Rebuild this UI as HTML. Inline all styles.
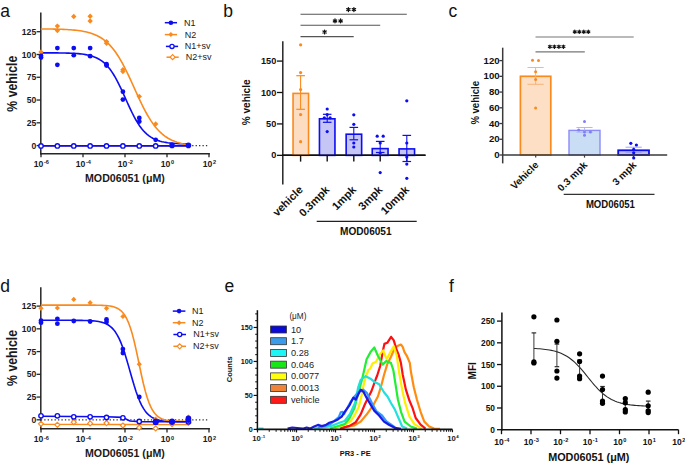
<!DOCTYPE html>
<html><head><meta charset="utf-8"><style>
html,body{margin:0;padding:0;background:#fff;width:685px;height:465px;overflow:hidden}
svg{display:block}
text{font-family:"Liberation Sans", sans-serif}
</style></head><body>
<svg width="685" height="465" viewBox="0 0 685 465">
<rect width="685" height="465" fill="#fff"/>
<text x="0.30" y="16.50" font-size="17.5" font-weight="normal" text-anchor="start" fill="#111" >a</text>
<text x="223.30" y="16.80" font-size="17.5" font-weight="normal" text-anchor="start" fill="#111" >b</text>
<text x="448.60" y="16.80" font-size="17.5" font-weight="normal" text-anchor="start" fill="#111" >c</text>
<text x="0.30" y="291.60" font-size="17.5" font-weight="normal" text-anchor="start" fill="#111" >d</text>
<text x="224.60" y="291.50" font-size="17.5" font-weight="normal" text-anchor="start" fill="#111" >e</text>
<text x="449.00" y="291.60" font-size="17.5" font-weight="normal" text-anchor="start" fill="#111" >f</text>
<line x1="40.80" y1="12.50" x2="40.80" y2="154.45" stroke="#262626" stroke-width="1.5" />
<line x1="40.05" y1="153.70" x2="209.90" y2="153.70" stroke="#262626" stroke-width="1.5" />
<line x1="36.60" y1="145.60" x2="40.80" y2="145.60" stroke="#262626" stroke-width="1.3" />
<text x="36.20" y="148.70" font-size="8.6" font-weight="bold" text-anchor="end" fill="#1a1a1a" >0</text>
<line x1="36.60" y1="122.82" x2="40.80" y2="122.82" stroke="#262626" stroke-width="1.3" />
<text x="36.20" y="125.92" font-size="8.6" font-weight="bold" text-anchor="end" fill="#1a1a1a" >25</text>
<line x1="36.60" y1="100.04" x2="40.80" y2="100.04" stroke="#262626" stroke-width="1.3" />
<text x="36.20" y="103.14" font-size="8.6" font-weight="bold" text-anchor="end" fill="#1a1a1a" >50</text>
<line x1="36.60" y1="77.26" x2="40.80" y2="77.26" stroke="#262626" stroke-width="1.3" />
<text x="36.20" y="80.36" font-size="8.6" font-weight="bold" text-anchor="end" fill="#1a1a1a" >75</text>
<line x1="36.60" y1="54.48" x2="40.80" y2="54.48" stroke="#262626" stroke-width="1.3" />
<text x="36.20" y="57.58" font-size="8.6" font-weight="bold" text-anchor="end" fill="#1a1a1a" >100</text>
<line x1="36.60" y1="31.70" x2="40.80" y2="31.70" stroke="#262626" stroke-width="1.3" />
<text x="36.20" y="34.80" font-size="8.6" font-weight="bold" text-anchor="end" fill="#1a1a1a" >125</text>
<line x1="41.00" y1="153.70" x2="41.00" y2="157.30" stroke="#262626" stroke-width="1.3" />
<text x="41.40" y="166.80" font-size="8.6" font-weight="bold" text-anchor="middle" fill="#1a1a1a"><tspan>10</tspan><tspan dx="0.6" dy="-2.4" font-size="5.6">-6</tspan></text>
<line x1="83.00" y1="153.70" x2="83.00" y2="157.30" stroke="#262626" stroke-width="1.3" />
<text x="83.40" y="166.80" font-size="8.6" font-weight="bold" text-anchor="middle" fill="#1a1a1a"><tspan>10</tspan><tspan dx="0.6" dy="-2.4" font-size="5.6">-4</tspan></text>
<line x1="125.00" y1="153.70" x2="125.00" y2="157.30" stroke="#262626" stroke-width="1.3" />
<text x="125.40" y="166.80" font-size="8.6" font-weight="bold" text-anchor="middle" fill="#1a1a1a"><tspan>10</tspan><tspan dx="0.6" dy="-2.4" font-size="5.6">-2</tspan></text>
<line x1="167.00" y1="153.70" x2="167.00" y2="157.30" stroke="#262626" stroke-width="1.3" />
<text x="167.40" y="166.80" font-size="8.6" font-weight="bold" text-anchor="middle" fill="#1a1a1a"><tspan>10</tspan><tspan dx="0.6" dy="-2.4" font-size="5.6">0</tspan></text>
<line x1="209.00" y1="153.70" x2="209.00" y2="157.30" stroke="#262626" stroke-width="1.3" />
<text x="209.40" y="166.80" font-size="8.6" font-weight="bold" text-anchor="middle" fill="#1a1a1a"><tspan>10</tspan><tspan dx="0.6" dy="-2.4" font-size="5.6">2</tspan></text>
<text x="85.00" y="182.20" font-size="10" font-weight="bold" text-anchor="start" fill="#1a1a1a" textLength="79.80" lengthAdjust="spacingAndGlyphs" >MOD06051 (μM)</text>
<text x="16.90" y="83.65" font-size="14.4" font-weight="bold" text-anchor="middle" fill="#1a1a1a" textLength="56.00" lengthAdjust="spacingAndGlyphs" transform="rotate(-90 16.90 83.65)" >% vehicle</text>
<line x1="40.80" y1="145.60" x2="207.5" y2="145.60" stroke="#333" stroke-width="1.2" stroke-dasharray="1.3 2.14"/>
<path d="M40.80 52.82 L42.67 52.83 L44.53 52.83 L46.40 52.84 L48.26 52.85 L50.13 52.86 L51.99 52.87 L53.86 52.88 L55.73 52.90 L57.59 52.92 L59.46 52.94 L61.32 52.97 L63.19 53.00 L65.06 53.05 L66.92 53.09 L68.79 53.15 L70.65 53.22 L72.52 53.31 L74.38 53.41 L76.25 53.53 L78.12 53.67 L79.98 53.85 L81.85 54.06 L83.71 54.30 L85.58 54.60 L87.45 54.95 L89.31 55.37 L91.18 55.87 L93.04 56.46 L94.91 57.16 L96.77 57.98 L98.64 58.95 L100.51 60.08 L102.37 61.40 L104.24 62.94 L106.10 64.71 L107.97 66.73 L109.84 69.03 L111.70 71.61 L113.57 74.49 L115.43 77.65 L117.30 81.09 L119.16 84.78 L121.03 88.67 L122.90 92.72 L124.76 96.86 L126.63 101.03 L128.49 105.16 L130.36 109.17 L132.23 113.02 L134.09 116.66 L135.96 120.03 L137.82 123.13 L139.69 125.94 L141.55 128.46 L143.42 130.69 L145.29 132.65 L147.15 134.37 L149.02 135.85 L150.88 137.13 L152.75 138.22 L154.62 139.15 L156.48 139.95 L158.35 140.62 L160.21 141.19 L162.08 141.66 L163.94 142.07 L165.81 142.40 L167.68 142.69 L169.54 142.93 L171.41 143.12 L173.27 143.29 L175.14 143.43 L177.01 143.55 L178.87 143.64 L180.74 143.72 L182.60 143.79 L184.47 143.85 L186.33 143.90 L188.20 143.93" fill="none" stroke="#0D0DF2" stroke-width="1.6" stroke-linejoin="round" />
<path d="M40.80 28.93 L42.67 28.94 L44.53 28.96 L46.40 28.98 L48.26 29.00 L50.13 29.03 L51.99 29.06 L53.86 29.10 L55.73 29.14 L57.59 29.19 L59.46 29.25 L61.32 29.31 L63.19 29.38 L65.06 29.47 L66.92 29.57 L68.79 29.68 L70.65 29.81 L72.52 29.95 L74.38 30.12 L76.25 30.32 L78.12 30.54 L79.98 30.79 L81.85 31.08 L83.71 31.42 L85.58 31.80 L87.45 32.23 L89.31 32.73 L91.18 33.30 L93.04 33.94 L94.91 34.68 L96.77 35.51 L98.64 36.45 L100.51 37.51 L102.37 38.71 L104.24 40.06 L106.10 41.57 L107.97 43.26 L109.84 45.13 L111.70 47.20 L113.57 49.49 L115.43 51.99 L117.30 54.71 L119.16 57.66 L121.03 60.82 L122.90 64.20 L124.76 67.77 L126.63 71.51 L128.49 75.40 L130.36 79.41 L132.23 83.50 L134.09 87.63 L135.96 91.76 L137.82 95.85 L139.69 99.86 L141.55 103.77 L143.42 107.52 L145.29 111.11 L147.15 114.50 L149.02 117.68 L150.88 120.65 L152.75 123.39 L154.62 125.91 L156.48 128.21 L158.35 130.30 L160.21 132.19 L162.08 133.89 L163.94 135.42 L165.81 136.78 L167.68 137.99 L169.54 139.06 L171.41 140.02 L173.27 140.86 L175.14 141.60 L177.01 142.25 L178.87 142.82 L180.74 143.33 L182.60 143.77 L184.47 144.15 L186.33 144.49 L188.20 144.78" fill="none" stroke="#FA8A1E" stroke-width="1.6" stroke-linejoin="round" />
<path d="M40.80 145.90 L188.20 145.90" fill="none" stroke="#FA8A1E" stroke-width="1.4" stroke-linejoin="round" />
<path d="M40.80 145.90 L188.20 145.90" fill="none" stroke="#0D0DF2" stroke-width="1.6" stroke-linejoin="round" />
<circle cx="41.00" cy="145.90" r="2.2" fill="#fff" stroke="#0D0DF2" stroke-width="1.4"/>
<circle cx="57.38" cy="145.90" r="2.2" fill="#fff" stroke="#0D0DF2" stroke-width="1.4"/>
<circle cx="73.76" cy="145.90" r="2.2" fill="#fff" stroke="#0D0DF2" stroke-width="1.4"/>
<circle cx="90.14" cy="145.90" r="2.2" fill="#fff" stroke="#0D0DF2" stroke-width="1.4"/>
<circle cx="106.52" cy="145.90" r="2.2" fill="#fff" stroke="#0D0DF2" stroke-width="1.4"/>
<circle cx="122.90" cy="145.90" r="2.2" fill="#fff" stroke="#0D0DF2" stroke-width="1.4"/>
<circle cx="139.28" cy="145.90" r="2.2" fill="#fff" stroke="#0D0DF2" stroke-width="1.4"/>
<circle cx="155.66" cy="145.90" r="2.2" fill="#fff" stroke="#0D0DF2" stroke-width="1.4"/>
<path d="M41.00 49.20L43.70 51.90L41.00 54.60L38.30 51.90Z" fill="#FA8A1E" stroke="none" stroke-width="0"/>
<path d="M57.38 23.40L60.08 26.10L57.38 28.80L54.68 26.10Z" fill="#FA8A1E" stroke="none" stroke-width="0"/>
<path d="M57.38 27.90L60.08 30.60L57.38 33.30L54.68 30.60Z" fill="#FA8A1E" stroke="none" stroke-width="0"/>
<path d="M73.76 13.80L76.46 16.50L73.76 19.20L71.06 16.50Z" fill="#FA8A1E" stroke="none" stroke-width="0"/>
<path d="M90.14 13.50L92.84 16.20L90.14 18.90L87.44 16.20Z" fill="#FA8A1E" stroke="none" stroke-width="0"/>
<path d="M90.14 18.30L92.84 21.00L90.14 23.70L87.44 21.00Z" fill="#FA8A1E" stroke="none" stroke-width="0"/>
<path d="M106.52 38.90L109.22 41.60L106.52 44.30L103.82 41.60Z" fill="#FA8A1E" stroke="none" stroke-width="0"/>
<path d="M106.52 40.60L109.22 43.30L106.52 46.00L103.82 43.30Z" fill="#FA8A1E" stroke="none" stroke-width="0"/>
<path d="M122.90 67.10L125.60 69.80L122.90 72.50L120.20 69.80Z" fill="#FA8A1E" stroke="none" stroke-width="0"/>
<path d="M122.90 68.80L125.60 71.50L122.90 74.20L120.20 71.50Z" fill="#FA8A1E" stroke="none" stroke-width="0"/>
<path d="M139.28 93.70L141.98 96.40L139.28 99.10L136.58 96.40Z" fill="#FA8A1E" stroke="none" stroke-width="0"/>
<path d="M155.66 121.30L158.36 124.00L155.66 126.70L152.96 124.00Z" fill="#FA8A1E" stroke="none" stroke-width="0"/>
<path d="M172.04 142.90L174.74 145.60L172.04 148.30L169.34 145.60Z" fill="#FA8A1E" stroke="none" stroke-width="0"/>
<path d="M188.42 142.90L191.12 145.60L188.42 148.30L185.72 145.60Z" fill="#FA8A1E" stroke="none" stroke-width="0"/>
<circle cx="41.00" cy="55.80" r="2.4" fill="#0D0DF2" stroke="none" stroke-width="0"/>
<circle cx="41.00" cy="57.50" r="2.4" fill="#0D0DF2" stroke="none" stroke-width="0"/>
<circle cx="57.38" cy="48.10" r="2.4" fill="#0D0DF2" stroke="none" stroke-width="0"/>
<circle cx="57.38" cy="64.80" r="2.4" fill="#0D0DF2" stroke="none" stroke-width="0"/>
<circle cx="73.76" cy="48.10" r="2.4" fill="#0D0DF2" stroke="none" stroke-width="0"/>
<circle cx="73.76" cy="55.20" r="2.4" fill="#0D0DF2" stroke="none" stroke-width="0"/>
<circle cx="90.14" cy="48.10" r="2.4" fill="#0D0DF2" stroke="none" stroke-width="0"/>
<circle cx="90.14" cy="56.20" r="2.4" fill="#0D0DF2" stroke="none" stroke-width="0"/>
<circle cx="106.52" cy="64.20" r="2.4" fill="#0D0DF2" stroke="none" stroke-width="0"/>
<circle cx="106.52" cy="65.50" r="2.4" fill="#0D0DF2" stroke="none" stroke-width="0"/>
<circle cx="122.90" cy="91.70" r="2.4" fill="#0D0DF2" stroke="none" stroke-width="0"/>
<circle cx="122.90" cy="99.60" r="2.4" fill="#0D0DF2" stroke="none" stroke-width="0"/>
<circle cx="139.28" cy="117.90" r="2.4" fill="#0D0DF2" stroke="none" stroke-width="0"/>
<circle cx="139.28" cy="121.60" r="2.4" fill="#0D0DF2" stroke="none" stroke-width="0"/>
<circle cx="155.66" cy="139.80" r="2.4" fill="#0D0DF2" stroke="none" stroke-width="0"/>
<circle cx="172.04" cy="145.40" r="2.8" fill="#0D0DF2" stroke="none" stroke-width="0"/>
<circle cx="188.42" cy="145.40" r="2.8" fill="#0D0DF2" stroke="none" stroke-width="0"/>
<line x1="164.80" y1="22.70" x2="177.00" y2="22.70" stroke="#0D0DF2" stroke-width="1.5" />
<circle cx="170.90" cy="22.70" r="2.3" fill="#0D0DF2" stroke="none" stroke-width="0"/>
<line x1="164.80" y1="34.60" x2="177.00" y2="34.60" stroke="#FA8A1E" stroke-width="1.5" />
<path d="M170.90 32.10L173.40 34.60L170.90 37.10L168.40 34.60Z" fill="#FA8A1E" stroke="none" stroke-width="0"/>
<line x1="165.90" y1="46.40" x2="178.10" y2="46.40" stroke="#0D0DF2" stroke-width="1.5" />
<circle cx="172.00" cy="46.40" r="2.1" fill="#fff" stroke="#0D0DF2" stroke-width="1.3"/>
<line x1="166.50" y1="57.20" x2="178.70" y2="57.20" stroke="#FA8A1E" stroke-width="1.5" />
<path d="M172.60 54.70L175.10 57.20L172.60 59.70L170.10 57.20Z" fill="#fff" stroke="#FA8A1E" stroke-width="1.2"/>
<text x="183.90" y="25.80" font-size="9" font-weight="normal" text-anchor="start" fill="#1a1a1a" >N1</text>
<text x="184.70" y="37.80" font-size="9" font-weight="normal" text-anchor="start" fill="#1a1a1a" >N2</text>
<text x="184.70" y="49.40" font-size="9" font-weight="normal" text-anchor="start" fill="#1a1a1a" >N1+sv</text>
<text x="185.80" y="60.20" font-size="9" font-weight="normal" text-anchor="start" fill="#1a1a1a" >N2+sv</text>
<line x1="40.80" y1="287.20" x2="40.80" y2="429.55" stroke="#262626" stroke-width="1.5" />
<line x1="40.05" y1="428.80" x2="209.90" y2="428.80" stroke="#262626" stroke-width="1.5" />
<line x1="36.60" y1="419.80" x2="40.80" y2="419.80" stroke="#262626" stroke-width="1.3" />
<text x="36.20" y="422.90" font-size="8.6" font-weight="bold" text-anchor="end" fill="#1a1a1a" >0</text>
<line x1="36.60" y1="397.06" x2="40.80" y2="397.06" stroke="#262626" stroke-width="1.3" />
<text x="36.20" y="400.16" font-size="8.6" font-weight="bold" text-anchor="end" fill="#1a1a1a" >25</text>
<line x1="36.60" y1="374.32" x2="40.80" y2="374.32" stroke="#262626" stroke-width="1.3" />
<text x="36.20" y="377.42" font-size="8.6" font-weight="bold" text-anchor="end" fill="#1a1a1a" >50</text>
<line x1="36.60" y1="351.58" x2="40.80" y2="351.58" stroke="#262626" stroke-width="1.3" />
<text x="36.20" y="354.68" font-size="8.6" font-weight="bold" text-anchor="end" fill="#1a1a1a" >75</text>
<line x1="36.60" y1="328.84" x2="40.80" y2="328.84" stroke="#262626" stroke-width="1.3" />
<text x="36.20" y="331.94" font-size="8.6" font-weight="bold" text-anchor="end" fill="#1a1a1a" >100</text>
<line x1="36.60" y1="306.10" x2="40.80" y2="306.10" stroke="#262626" stroke-width="1.3" />
<text x="36.20" y="309.20" font-size="8.6" font-weight="bold" text-anchor="end" fill="#1a1a1a" >125</text>
<line x1="41.00" y1="428.80" x2="41.00" y2="432.40" stroke="#262626" stroke-width="1.3" />
<text x="41.40" y="441.90" font-size="8.6" font-weight="bold" text-anchor="middle" fill="#1a1a1a"><tspan>10</tspan><tspan dx="0.6" dy="-2.4" font-size="5.6">-6</tspan></text>
<line x1="83.00" y1="428.80" x2="83.00" y2="432.40" stroke="#262626" stroke-width="1.3" />
<text x="83.40" y="441.90" font-size="8.6" font-weight="bold" text-anchor="middle" fill="#1a1a1a"><tspan>10</tspan><tspan dx="0.6" dy="-2.4" font-size="5.6">-4</tspan></text>
<line x1="125.00" y1="428.80" x2="125.00" y2="432.40" stroke="#262626" stroke-width="1.3" />
<text x="125.40" y="441.90" font-size="8.6" font-weight="bold" text-anchor="middle" fill="#1a1a1a"><tspan>10</tspan><tspan dx="0.6" dy="-2.4" font-size="5.6">-2</tspan></text>
<line x1="167.00" y1="428.80" x2="167.00" y2="432.40" stroke="#262626" stroke-width="1.3" />
<text x="167.40" y="441.90" font-size="8.6" font-weight="bold" text-anchor="middle" fill="#1a1a1a"><tspan>10</tspan><tspan dx="0.6" dy="-2.4" font-size="5.6">0</tspan></text>
<line x1="209.00" y1="428.80" x2="209.00" y2="432.40" stroke="#262626" stroke-width="1.3" />
<text x="209.40" y="441.90" font-size="8.6" font-weight="bold" text-anchor="middle" fill="#1a1a1a"><tspan>10</tspan><tspan dx="0.6" dy="-2.4" font-size="5.6">2</tspan></text>
<text x="85.00" y="457.30" font-size="10" font-weight="bold" text-anchor="start" fill="#1a1a1a" textLength="79.80" lengthAdjust="spacingAndGlyphs" >MOD06051 (μM)</text>
<text x="16.90" y="357.95" font-size="14.4" font-weight="bold" text-anchor="middle" fill="#1a1a1a" textLength="56.00" lengthAdjust="spacingAndGlyphs" transform="rotate(-90 16.90 357.95)" >% vehicle</text>
<line x1="40.80" y1="419.80" x2="207.5" y2="419.80" stroke="#333" stroke-width="1.2" stroke-dasharray="1.3 2.14"/>
<path d="M40.80 320.28 L42.67 320.28 L44.53 320.28 L46.40 320.28 L48.26 320.28 L50.13 320.28 L51.99 320.28 L53.86 320.28 L55.73 320.28 L57.59 320.28 L59.46 320.29 L61.32 320.29 L63.19 320.29 L65.06 320.29 L66.92 320.30 L68.79 320.30 L70.65 320.31 L72.52 320.31 L74.38 320.32 L76.25 320.34 L78.12 320.35 L79.98 320.37 L81.85 320.40 L83.71 320.44 L85.58 320.49 L87.45 320.55 L89.31 320.63 L91.18 320.73 L93.04 320.86 L94.91 321.03 L96.77 321.26 L98.64 321.54 L100.51 321.91 L102.37 322.39 L104.24 323.00 L106.10 323.78 L107.97 324.77 L109.84 326.04 L111.70 327.63 L113.57 329.61 L115.43 332.07 L117.30 335.07 L119.16 338.67 L121.03 342.93 L122.90 347.84 L124.76 353.37 L126.63 359.43 L128.49 365.85 L130.36 372.45 L132.23 379.00 L134.09 385.30 L135.96 391.15 L137.82 396.43 L139.69 401.07 L141.55 405.05 L143.42 408.39 L145.29 411.16 L147.15 413.41 L149.02 415.22 L150.88 416.67 L152.75 417.81 L154.62 418.71 L156.48 419.42 L158.35 419.97 L160.21 420.39 L162.08 420.73 L163.94 420.98 L165.81 421.18 L167.68 421.34 L169.54 421.46 L171.41 421.55 L173.27 421.62 L175.14 421.68 L177.01 421.72 L178.87 421.75 L180.74 421.78 L182.60 421.79 L184.47 421.81 L186.33 421.82 L188.20 421.83" fill="none" stroke="#0D0DF2" stroke-width="1.6" stroke-linejoin="round" />
<path d="M40.80 305.08 L42.67 305.08 L44.53 305.08 L46.40 305.08 L48.26 305.08 L50.13 305.08 L51.99 305.08 L53.86 305.08 L55.73 305.08 L57.59 305.08 L59.46 305.08 L61.32 305.08 L63.19 305.08 L65.06 305.08 L66.92 305.08 L68.79 305.08 L70.65 305.08 L72.52 305.08 L74.38 305.08 L76.25 305.08 L78.12 305.08 L79.98 305.09 L81.85 305.09 L83.71 305.09 L85.58 305.10 L87.45 305.10 L89.31 305.11 L91.18 305.12 L93.04 305.14 L94.91 305.16 L96.77 305.19 L98.64 305.23 L100.51 305.28 L102.37 305.35 L104.24 305.45 L106.10 305.59 L107.97 305.77 L109.84 306.02 L111.70 306.35 L113.57 306.80 L115.43 307.41 L117.30 308.23 L119.16 309.33 L121.03 310.79 L122.90 312.72 L124.76 315.24 L126.63 318.48 L128.49 322.59 L130.36 327.69 L132.23 333.84 L134.09 341.02 L135.96 349.09 L137.82 357.78 L139.69 366.73 L141.55 375.51 L143.42 383.74 L145.29 391.13 L147.15 397.51 L149.02 402.84 L150.88 407.16 L152.75 410.58 L154.62 413.25 L156.48 415.29 L158.35 416.84 L160.21 418.01 L162.08 418.89 L163.94 419.54 L165.81 420.02 L167.68 420.38 L169.54 420.64 L171.41 420.84 L173.27 420.98 L175.14 421.09 L177.01 421.16 L178.87 421.22 L180.74 421.26 L182.60 421.29 L184.47 421.32 L186.33 421.33 L188.20 421.35" fill="none" stroke="#FA8A1E" stroke-width="1.6" stroke-linejoin="round" />
<path d="M40.80 424.40 L122.70 424.50 L188.20 424.60" fill="none" stroke="#FA8A1E" stroke-width="1.4" stroke-linejoin="round" />
<path d="M40.80 416.30 L106.60 416.80 L122.70 417.40 L130.00 421.00 L139.80 421.60 L188.20 421.80" fill="none" stroke="#0D0DF2" stroke-width="1.6" stroke-linejoin="round" />
<path d="M41.00 421.30L43.50 423.80L41.00 426.30L38.50 423.80Z" fill="#fff" stroke="#FA8A1E" stroke-width="1.2"/>
<circle cx="41.00" cy="415.80" r="2.2" fill="#fff" stroke="#0D0DF2" stroke-width="1.4"/>
<path d="M57.38 422.30L59.88 424.80L57.38 427.30L54.88 424.80Z" fill="#fff" stroke="#FA8A1E" stroke-width="1.2"/>
<circle cx="57.38" cy="415.80" r="2.2" fill="#fff" stroke="#0D0DF2" stroke-width="1.4"/>
<path d="M73.76 419.70L76.26 422.20L73.76 424.70L71.26 422.20Z" fill="#fff" stroke="#FA8A1E" stroke-width="1.2"/>
<circle cx="73.76" cy="416.80" r="2.2" fill="#fff" stroke="#0D0DF2" stroke-width="1.4"/>
<path d="M90.14 420.90L92.64 423.40L90.14 425.90L87.64 423.40Z" fill="#fff" stroke="#FA8A1E" stroke-width="1.2"/>
<circle cx="90.14" cy="416.80" r="2.2" fill="#fff" stroke="#0D0DF2" stroke-width="1.4"/>
<path d="M106.52 420.60L109.02 423.10L106.52 425.60L104.02 423.10Z" fill="#fff" stroke="#FA8A1E" stroke-width="1.2"/>
<circle cx="106.52" cy="417.50" r="2.2" fill="#fff" stroke="#0D0DF2" stroke-width="1.4"/>
<path d="M122.90 423.00L125.40 425.50L122.90 428.00L120.40 425.50Z" fill="#fff" stroke="#FA8A1E" stroke-width="1.2"/>
<circle cx="122.90" cy="417.80" r="2.2" fill="#fff" stroke="#0D0DF2" stroke-width="1.4"/>
<path d="M139.28 425.10L141.78 427.60L139.28 430.10L136.78 427.60Z" fill="#fff" stroke="#FA8A1E" stroke-width="1.2"/>
<circle cx="139.28" cy="421.50" r="2.2" fill="#fff" stroke="#0D0DF2" stroke-width="1.4"/>
<path d="M155.66 425.90L158.16 428.40L155.66 430.90L153.16 428.40Z" fill="#fff" stroke="#FA8A1E" stroke-width="1.2"/>
<circle cx="155.66" cy="422.20" r="2.2" fill="#fff" stroke="#0D0DF2" stroke-width="1.4"/>
<path d="M172.04 421.70L174.54 424.20L172.04 426.70L169.54 424.20Z" fill="#fff" stroke="#FA8A1E" stroke-width="1.2"/>
<circle cx="172.04" cy="421.80" r="2.2" fill="#fff" stroke="#0D0DF2" stroke-width="1.4"/>
<path d="M188.42 420.50L190.92 423.00L188.42 425.50L185.92 423.00Z" fill="#fff" stroke="#FA8A1E" stroke-width="1.2"/>
<circle cx="188.42" cy="421.80" r="2.2" fill="#fff" stroke="#0D0DF2" stroke-width="1.4"/>
<path d="M41.00 305.70L43.60 308.30L41.00 310.90L38.40 308.30Z" fill="#FA8A1E" stroke="none" stroke-width="0"/>
<path d="M57.38 305.40L59.98 308.00L57.38 310.60L54.78 308.00Z" fill="#FA8A1E" stroke="none" stroke-width="0"/>
<path d="M73.76 296.80L76.36 299.40L73.76 302.00L71.16 299.40Z" fill="#FA8A1E" stroke="none" stroke-width="0"/>
<path d="M90.14 300.10L92.74 302.70L90.14 305.30L87.54 302.70Z" fill="#FA8A1E" stroke="none" stroke-width="0"/>
<path d="M106.52 305.70L109.12 308.30L106.52 310.90L103.92 308.30Z" fill="#FA8A1E" stroke="none" stroke-width="0"/>
<path d="M122.90 313.90L125.50 316.50L122.90 319.10L120.30 316.50Z" fill="#FA8A1E" stroke="none" stroke-width="0"/>
<path d="M139.28 361.60L141.88 364.20L139.28 366.80L136.68 364.20Z" fill="#FA8A1E" stroke="none" stroke-width="0"/>
<path d="M155.66 416.40L158.26 419.00L155.66 421.60L153.06 419.00Z" fill="#FA8A1E" stroke="none" stroke-width="0"/>
<path d="M172.04 421.20L174.64 423.80L172.04 426.40L169.44 423.80Z" fill="#FA8A1E" stroke="none" stroke-width="0"/>
<path d="M188.42 414.40L191.02 417.00L188.42 419.60L185.82 417.00Z" fill="#FA8A1E" stroke="none" stroke-width="0"/>
<circle cx="41.00" cy="320.70" r="2.4" fill="#0D0DF2" stroke="none" stroke-width="0"/>
<circle cx="41.00" cy="322.70" r="2.4" fill="#0D0DF2" stroke="none" stroke-width="0"/>
<circle cx="57.38" cy="318.80" r="2.4" fill="#0D0DF2" stroke="none" stroke-width="0"/>
<circle cx="57.38" cy="323.70" r="2.4" fill="#0D0DF2" stroke="none" stroke-width="0"/>
<circle cx="73.76" cy="321.00" r="2.4" fill="#0D0DF2" stroke="none" stroke-width="0"/>
<circle cx="90.14" cy="321.50" r="2.4" fill="#0D0DF2" stroke="none" stroke-width="0"/>
<circle cx="106.52" cy="319.50" r="2.4" fill="#0D0DF2" stroke="none" stroke-width="0"/>
<circle cx="106.52" cy="322.00" r="2.4" fill="#0D0DF2" stroke="none" stroke-width="0"/>
<circle cx="122.90" cy="349.10" r="2.4" fill="#0D0DF2" stroke="none" stroke-width="0"/>
<circle cx="122.90" cy="353.00" r="2.4" fill="#0D0DF2" stroke="none" stroke-width="0"/>
<circle cx="139.28" cy="397.00" r="2.4" fill="#0D0DF2" stroke="none" stroke-width="0"/>
<circle cx="155.66" cy="421.20" r="2.8" fill="#0D0DF2" stroke="none" stroke-width="0"/>
<circle cx="155.66" cy="422.20" r="2.8" fill="#0D0DF2" stroke="none" stroke-width="0"/>
<circle cx="172.04" cy="421.30" r="2.8" fill="#0D0DF2" stroke="none" stroke-width="0"/>
<circle cx="172.04" cy="422.10" r="2.8" fill="#0D0DF2" stroke="none" stroke-width="0"/>
<circle cx="188.42" cy="418.30" r="2.8" fill="#0D0DF2" stroke="none" stroke-width="0"/>
<circle cx="188.42" cy="420.10" r="2.8" fill="#0D0DF2" stroke="none" stroke-width="0"/>
<line x1="172.80" y1="311.10" x2="185.40" y2="311.10" stroke="#0D0DF2" stroke-width="1.5" />
<circle cx="179.10" cy="311.10" r="2.3" fill="#0D0DF2" stroke="none" stroke-width="0"/>
<line x1="172.80" y1="322.70" x2="185.40" y2="322.70" stroke="#FA8A1E" stroke-width="1.5" />
<path d="M179.10 320.20L181.60 322.70L179.10 325.20L176.60 322.70Z" fill="#FA8A1E" stroke="none" stroke-width="0"/>
<line x1="173.40" y1="334.50" x2="186.00" y2="334.50" stroke="#0D0DF2" stroke-width="1.5" />
<circle cx="179.70" cy="334.50" r="2.1" fill="#fff" stroke="#0D0DF2" stroke-width="1.3"/>
<line x1="173.40" y1="346.30" x2="186.00" y2="346.30" stroke="#FA8A1E" stroke-width="1.5" />
<path d="M179.70 343.80L182.20 346.30L179.70 348.80L177.20 346.30Z" fill="#fff" stroke="#FA8A1E" stroke-width="1.2"/>
<text x="192.10" y="314.40" font-size="9" font-weight="normal" text-anchor="start" fill="#1a1a1a" >N1</text>
<text x="192.10" y="325.60" font-size="9" font-weight="normal" text-anchor="start" fill="#1a1a1a" >N2</text>
<text x="193.20" y="337.40" font-size="9" font-weight="normal" text-anchor="start" fill="#1a1a1a" >N1+sv</text>
<text x="193.00" y="349.10" font-size="9" font-weight="normal" text-anchor="start" fill="#1a1a1a" >N2+sv</text>
<line x1="282.80" y1="41.30" x2="282.80" y2="184.40" stroke="#262626" stroke-width="1.5" />
<line x1="282.05" y1="155.35" x2="425.50" y2="155.35" stroke="#111" stroke-width="1.5" />
<line x1="277.00" y1="155.35" x2="282.80" y2="155.35" stroke="#111" stroke-width="1.3" />
<text x="276.30" y="158.45" font-size="9.2" font-weight="bold" text-anchor="end" fill="#111" >0</text>
<line x1="277.00" y1="123.92" x2="282.80" y2="123.92" stroke="#111" stroke-width="1.3" />
<text x="276.30" y="127.02" font-size="9.2" font-weight="bold" text-anchor="end" fill="#111" >50</text>
<line x1="277.00" y1="92.50" x2="282.80" y2="92.50" stroke="#111" stroke-width="1.3" />
<text x="276.30" y="95.60" font-size="9.2" font-weight="bold" text-anchor="end" fill="#111" >100</text>
<line x1="277.00" y1="61.08" x2="282.80" y2="61.08" stroke="#111" stroke-width="1.3" />
<text x="276.30" y="64.17" font-size="9.2" font-weight="bold" text-anchor="end" fill="#111" >150</text>
<text x="249.60" y="102.30" font-size="10.6" font-weight="bold" text-anchor="middle" fill="#111" textLength="45.80" lengthAdjust="spacingAndGlyphs" transform="rotate(-90 249.60 102.30)" >% vehicle</text>
<rect x="293.05" y="93.40" width="15.50" height="61.95" fill="#FDDDC2" stroke="#FA8A1E" stroke-width="1.6"/>
<rect x="319.45" y="118.80" width="15.50" height="36.55" fill="#C6C6F6" stroke="#0D0DF2" stroke-width="1.6"/>
<rect x="346.15" y="134.20" width="15.50" height="21.15" fill="#C6C6F6" stroke="#0D0DF2" stroke-width="1.6"/>
<rect x="372.25" y="148.60" width="15.80" height="6.75" fill="#C6C6F6" stroke="#0D0DF2" stroke-width="1.6"/>
<rect x="399.05" y="148.90" width="15.50" height="6.45" fill="#C6C6F6" stroke="#0D0DF2" stroke-width="1.6"/>
<line x1="300.60" y1="155.35" x2="300.60" y2="161.60" stroke="#111" stroke-width="1.4" />
<line x1="327.20" y1="155.35" x2="327.20" y2="161.60" stroke="#111" stroke-width="1.4" />
<line x1="353.80" y1="155.35" x2="353.80" y2="161.60" stroke="#111" stroke-width="1.4" />
<line x1="380.20" y1="155.35" x2="380.20" y2="161.60" stroke="#111" stroke-width="1.4" />
<line x1="406.80" y1="155.35" x2="406.80" y2="161.60" stroke="#111" stroke-width="1.4" />
<line x1="282.05" y1="155.35" x2="425.50" y2="155.35" stroke="#111" stroke-width="1.5" />
<line x1="300.60" y1="75.70" x2="300.60" y2="109.30" stroke="#FA8A1E" stroke-width="1.1" />
<line x1="296.30" y1="75.70" x2="304.90" y2="75.70" stroke="#FA8A1E" stroke-width="1.2" />
<line x1="296.30" y1="109.30" x2="304.90" y2="109.30" stroke="#FA8A1E" stroke-width="1.2" />
<line x1="327.20" y1="114.30" x2="327.20" y2="122.30" stroke="#0D0DF2" stroke-width="1.1" />
<line x1="322.90" y1="114.30" x2="331.50" y2="114.30" stroke="#0D0DF2" stroke-width="1.2" />
<line x1="322.90" y1="122.30" x2="331.50" y2="122.30" stroke="#0D0DF2" stroke-width="1.2" />
<line x1="353.80" y1="127.40" x2="353.80" y2="139.80" stroke="#0D0DF2" stroke-width="1.1" />
<line x1="349.50" y1="127.40" x2="358.10" y2="127.40" stroke="#0D0DF2" stroke-width="1.2" />
<line x1="349.50" y1="139.80" x2="358.10" y2="139.80" stroke="#0D0DF2" stroke-width="1.2" />
<line x1="380.20" y1="141.40" x2="380.20" y2="152.50" stroke="#0D0DF2" stroke-width="1.1" />
<line x1="375.90" y1="141.40" x2="384.50" y2="141.40" stroke="#0D0DF2" stroke-width="1.2" />
<line x1="375.90" y1="152.50" x2="384.50" y2="152.50" stroke="#0D0DF2" stroke-width="1.2" />
<line x1="406.80" y1="135.40" x2="406.80" y2="161.50" stroke="#0D0DF2" stroke-width="1.1" />
<line x1="402.50" y1="135.40" x2="411.10" y2="135.40" stroke="#0D0DF2" stroke-width="1.2" />
<line x1="402.50" y1="161.50" x2="411.10" y2="161.50" stroke="#0D0DF2" stroke-width="1.2" />
<circle cx="300.60" cy="44.80" r="1.6" fill="#FA8A1E" stroke="none" stroke-width="0"/>
<circle cx="300.60" cy="72.60" r="1.6" fill="#FA8A1E" stroke="none" stroke-width="0"/>
<circle cx="300.60" cy="89.50" r="1.6" fill="#FA8A1E" stroke="none" stroke-width="0"/>
<circle cx="300.60" cy="114.60" r="1.6" fill="#FA8A1E" stroke="none" stroke-width="0"/>
<circle cx="300.60" cy="141.70" r="1.6" fill="#FA8A1E" stroke="none" stroke-width="0"/>
<circle cx="327.20" cy="109.00" r="1.6" fill="#0D0DF2" stroke="none" stroke-width="0"/>
<circle cx="327.20" cy="114.60" r="1.6" fill="#0D0DF2" stroke="none" stroke-width="0"/>
<circle cx="324.30" cy="117.80" r="1.6" fill="#0D0DF2" stroke="none" stroke-width="0"/>
<circle cx="330.10" cy="117.80" r="1.6" fill="#0D0DF2" stroke="none" stroke-width="0"/>
<circle cx="327.20" cy="131.60" r="1.6" fill="#0D0DF2" stroke="none" stroke-width="0"/>
<circle cx="353.80" cy="114.80" r="1.6" fill="#0D0DF2" stroke="none" stroke-width="0"/>
<circle cx="353.80" cy="124.30" r="1.6" fill="#0D0DF2" stroke="none" stroke-width="0"/>
<circle cx="353.80" cy="143.00" r="1.6" fill="#0D0DF2" stroke="none" stroke-width="0"/>
<circle cx="353.80" cy="147.00" r="1.6" fill="#0D0DF2" stroke="none" stroke-width="0"/>
<circle cx="377.20" cy="136.20" r="1.6" fill="#0D0DF2" stroke="none" stroke-width="0"/>
<circle cx="383.20" cy="136.20" r="1.6" fill="#0D0DF2" stroke="none" stroke-width="0"/>
<circle cx="380.20" cy="143.00" r="1.6" fill="#0D0DF2" stroke="none" stroke-width="0"/>
<circle cx="380.20" cy="153.00" r="1.6" fill="#0D0DF2" stroke="none" stroke-width="0"/>
<circle cx="380.20" cy="172.60" r="1.6" fill="#0D0DF2" stroke="none" stroke-width="0"/>
<circle cx="406.80" cy="100.80" r="1.6" fill="#0D0DF2" stroke="none" stroke-width="0"/>
<circle cx="406.80" cy="143.00" r="1.6" fill="#0D0DF2" stroke="none" stroke-width="0"/>
<circle cx="406.80" cy="157.00" r="1.6" fill="#0D0DF2" stroke="none" stroke-width="0"/>
<circle cx="406.80" cy="164.10" r="1.6" fill="#0D0DF2" stroke="none" stroke-width="0"/>
<circle cx="406.80" cy="178.30" r="1.6" fill="#0D0DF2" stroke="none" stroke-width="0"/>
<line x1="300.50" y1="14.20" x2="406.80" y2="14.20" stroke="#555" stroke-width="1.1" />
<line x1="300.50" y1="25.20" x2="380.20" y2="25.20" stroke="#555" stroke-width="1.1" />
<line x1="300.50" y1="36.60" x2="353.70" y2="36.60" stroke="#555" stroke-width="1.1" />
<path d="M348.40 7.70L348.40 11.50M346.75 8.65L350.05 10.55M350.05 8.65L346.75 10.55" stroke="#111" stroke-width="1.3" stroke-linecap="round"/>
<path d="M353.90 7.70L353.90 11.50M352.25 8.65L355.55 10.55M355.55 8.65L352.25 10.55" stroke="#111" stroke-width="1.3" stroke-linecap="round"/>
<path d="M335.00 19.00L335.00 22.80M333.35 19.95L336.65 21.85M336.65 19.95L333.35 21.85" stroke="#111" stroke-width="1.3" stroke-linecap="round"/>
<path d="M340.60 19.00L340.60 22.80M338.95 19.95L342.25 21.85M342.25 19.95L338.95 21.85" stroke="#111" stroke-width="1.3" stroke-linecap="round"/>
<path d="M324.60 30.10L324.60 33.90M322.95 31.05L326.25 32.95M326.25 31.05L322.95 32.95" stroke="#111" stroke-width="1.3" stroke-linecap="round"/>
<text x="303.60" y="190.50" font-size="11" font-weight="bold" text-anchor="end" fill="#111" transform="rotate(-45 303.60 190.50)" >vehicle</text>
<text x="330.20" y="190.50" font-size="11" font-weight="bold" text-anchor="end" fill="#111" transform="rotate(-45 330.20 190.50)" >0.3mpk</text>
<text x="356.80" y="190.50" font-size="11" font-weight="bold" text-anchor="end" fill="#111" transform="rotate(-45 356.80 190.50)" >1mpk</text>
<text x="383.20" y="190.50" font-size="11" font-weight="bold" text-anchor="end" fill="#111" transform="rotate(-45 383.20 190.50)" >3mpk</text>
<text x="409.80" y="190.50" font-size="11" font-weight="bold" text-anchor="end" fill="#111" transform="rotate(-45 409.80 190.50)" >10mpk</text>
<line x1="316.70" y1="221.40" x2="416.70" y2="221.40" stroke="#222" stroke-width="1.4" />
<text x="365.80" y="234.80" font-size="10.3" font-weight="bold" text-anchor="middle" fill="#111" textLength="51.50" lengthAdjust="spacingAndGlyphs" >MOD06051</text>
<line x1="502.70" y1="47.70" x2="502.70" y2="163.40" stroke="#3a3a3a" stroke-width="1.5" />
<line x1="499.40" y1="155.00" x2="502.70" y2="155.00" stroke="#3a3a3a" stroke-width="1.3" />
<text x="499.60" y="158.10" font-size="9.6" font-weight="bold" text-anchor="end" fill="#111" >0</text>
<line x1="499.40" y1="139.27" x2="502.70" y2="139.27" stroke="#3a3a3a" stroke-width="1.3" />
<text x="499.60" y="142.37" font-size="9.6" font-weight="bold" text-anchor="end" fill="#111" >20</text>
<line x1="499.40" y1="123.53" x2="502.70" y2="123.53" stroke="#3a3a3a" stroke-width="1.3" />
<text x="499.60" y="126.63" font-size="9.6" font-weight="bold" text-anchor="end" fill="#111" >40</text>
<line x1="499.40" y1="107.80" x2="502.70" y2="107.80" stroke="#3a3a3a" stroke-width="1.3" />
<text x="499.60" y="110.90" font-size="9.6" font-weight="bold" text-anchor="end" fill="#111" >60</text>
<line x1="499.40" y1="92.06" x2="502.70" y2="92.06" stroke="#3a3a3a" stroke-width="1.3" />
<text x="499.60" y="95.16" font-size="9.6" font-weight="bold" text-anchor="end" fill="#111" >80</text>
<line x1="499.40" y1="76.33" x2="502.70" y2="76.33" stroke="#3a3a3a" stroke-width="1.3" />
<text x="499.60" y="79.43" font-size="9.6" font-weight="bold" text-anchor="end" fill="#111" >100</text>
<line x1="499.40" y1="60.60" x2="502.70" y2="60.60" stroke="#3a3a3a" stroke-width="1.3" />
<text x="499.60" y="63.70" font-size="9.6" font-weight="bold" text-anchor="end" fill="#111" >120</text>
<text x="479.40" y="102.80" font-size="10.4" font-weight="bold" text-anchor="middle" fill="#111" textLength="43.60" lengthAdjust="spacingAndGlyphs" transform="rotate(-90 479.40 102.80)" >% vehicle</text>
<rect x="520.40" y="76.30" width="30.40" height="78.70" fill="#FDDFC6" stroke="#FA8A1E" stroke-width="1.7"/>
<rect x="569.00" y="130.40" width="31.00" height="24.60" fill="#C9DDF5" stroke="#8A8AF8" stroke-width="1.4"/>
<rect x="618.20" y="150.30" width="30.80" height="4.70" fill="#BEBEF2" stroke="#0D0DF2" stroke-width="1.8"/>
<line x1="501.95" y1="155.00" x2="667.20" y2="155.00" stroke="#3a3a3a" stroke-width="1.5" />
<line x1="535.70" y1="155.00" x2="535.70" y2="157.60" stroke="#3a3a3a" stroke-width="1.2" />
<line x1="584.50" y1="155.00" x2="584.50" y2="157.60" stroke="#3a3a3a" stroke-width="1.2" />
<line x1="633.50" y1="155.00" x2="633.50" y2="157.60" stroke="#3a3a3a" stroke-width="1.2" />
<line x1="535.60" y1="67.50" x2="535.60" y2="84.30" stroke="#F7AE72" stroke-width="0.9" />
<line x1="527.50" y1="67.50" x2="543.70" y2="67.50" stroke="#F7AE72" stroke-width="0.9" />
<line x1="527.50" y1="84.30" x2="543.70" y2="84.30" stroke="#F7AE72" stroke-width="0.9" />
<line x1="584.50" y1="127.50" x2="584.50" y2="132.20" stroke="#A8B2F6" stroke-width="0.9" />
<line x1="576.40" y1="127.50" x2="592.60" y2="127.50" stroke="#A8B2F6" stroke-width="0.9" />
<line x1="576.40" y1="132.20" x2="592.60" y2="132.20" stroke="#A8B2F6" stroke-width="0.9" />
<line x1="633.70" y1="147.20" x2="633.70" y2="152.40" stroke="#9C9CF0" stroke-width="0.9" />
<line x1="625.60" y1="147.20" x2="641.80" y2="147.20" stroke="#9C9CF0" stroke-width="0.9" />
<line x1="625.60" y1="152.40" x2="641.80" y2="152.40" stroke="#9C9CF0" stroke-width="0.9" />
<circle cx="532.50" cy="60.20" r="1.5" fill="#FA8A1E" stroke="none" stroke-width="0"/>
<circle cx="538.50" cy="60.50" r="1.5" fill="#FA8A1E" stroke="none" stroke-width="0"/>
<circle cx="535.60" cy="71.70" r="1.5" fill="#FA8A1E" stroke="none" stroke-width="0"/>
<circle cx="535.60" cy="79.50" r="1.5" fill="#FA8A1E" stroke="none" stroke-width="0"/>
<circle cx="535.60" cy="108.00" r="1.5" fill="#FA8A1E" stroke="none" stroke-width="0"/>
<circle cx="584.50" cy="121.40" r="1.5" fill="#8080F2" stroke="none" stroke-width="0"/>
<circle cx="578.70" cy="130.00" r="1.5" fill="#8080F2" stroke="none" stroke-width="0"/>
<circle cx="584.50" cy="131.90" r="1.5" fill="#8080F2" stroke="none" stroke-width="0"/>
<circle cx="590.40" cy="131.90" r="1.5" fill="#8080F2" stroke="none" stroke-width="0"/>
<circle cx="584.50" cy="135.30" r="1.5" fill="#8080F2" stroke="none" stroke-width="0"/>
<circle cx="630.80" cy="143.30" r="1.6" fill="#0D0DF2" stroke="none" stroke-width="0"/>
<circle cx="636.40" cy="145.00" r="1.6" fill="#0D0DF2" stroke="none" stroke-width="0"/>
<circle cx="633.70" cy="149.40" r="1.6" fill="#0D0DF2" stroke="none" stroke-width="0"/>
<circle cx="633.70" cy="152.80" r="1.6" fill="#0D0DF2" stroke="none" stroke-width="0"/>
<circle cx="633.70" cy="157.90" r="1.6" fill="#0D0DF2" stroke="none" stroke-width="0"/>
<line x1="535.50" y1="37.00" x2="633.70" y2="37.00" stroke="#777" stroke-width="1.1" />
<line x1="535.50" y1="51.90" x2="584.80" y2="51.90" stroke="#777" stroke-width="1.1" />
<path d="M574.80 30.10L574.80 33.50M573.33 30.95L576.27 32.65M576.27 30.95L573.33 32.65" stroke="#111" stroke-width="1.2" stroke-linecap="round"/>
<path d="M549.90 45.00L549.90 48.40M548.43 45.85L551.37 47.55M551.37 45.85L548.43 47.55" stroke="#111" stroke-width="1.2" stroke-linecap="round"/>
<path d="M579.30 30.10L579.30 33.50M577.83 30.95L580.77 32.65M580.77 30.95L577.83 32.65" stroke="#111" stroke-width="1.2" stroke-linecap="round"/>
<path d="M554.40 45.00L554.40 48.40M552.93 45.85L555.87 47.55M555.87 45.85L552.93 47.55" stroke="#111" stroke-width="1.2" stroke-linecap="round"/>
<path d="M583.80 30.10L583.80 33.50M582.33 30.95L585.27 32.65M585.27 30.95L582.33 32.65" stroke="#111" stroke-width="1.2" stroke-linecap="round"/>
<path d="M558.90 45.00L558.90 48.40M557.43 45.85L560.37 47.55M560.37 45.85L557.43 47.55" stroke="#111" stroke-width="1.2" stroke-linecap="round"/>
<path d="M588.30 30.10L588.30 33.50M586.83 30.95L589.77 32.65M589.77 30.95L586.83 32.65" stroke="#111" stroke-width="1.2" stroke-linecap="round"/>
<path d="M563.40 45.00L563.40 48.40M561.93 45.85L564.87 47.55M564.87 45.85L561.93 47.55" stroke="#111" stroke-width="1.2" stroke-linecap="round"/>
<text x="539.10" y="165.60" font-size="10.0" font-weight="bold" text-anchor="end" fill="#111" transform="rotate(-45 539.10 165.60)" >Vehicle</text>
<text x="587.90" y="165.60" font-size="10.0" font-weight="bold" text-anchor="end" fill="#111" transform="rotate(-45 587.90 165.60)" >0.3 mpk</text>
<text x="636.90" y="165.60" font-size="10.0" font-weight="bold" text-anchor="end" fill="#111" transform="rotate(-45 636.90 165.60)" >3 mpk</text>
<line x1="563.70" y1="194.40" x2="654.50" y2="194.40" stroke="#333" stroke-width="1.3" />
<text x="610.40" y="208.00" font-size="10.2" font-weight="bold" text-anchor="middle" fill="#111" textLength="49.00" lengthAdjust="spacingAndGlyphs" >MOD06051</text>
<line x1="257.40" y1="310.20" x2="257.40" y2="430.20" stroke="#111" stroke-width="1.5" />
<line x1="253.60" y1="429.40" x2="257.40" y2="429.40" stroke="#111" stroke-width="1.2" />
<line x1="255.20" y1="422.60" x2="257.40" y2="422.60" stroke="#111" stroke-width="1.0" />
<line x1="255.20" y1="415.81" x2="257.40" y2="415.81" stroke="#111" stroke-width="1.0" />
<line x1="255.20" y1="409.01" x2="257.40" y2="409.01" stroke="#111" stroke-width="1.0" />
<line x1="255.20" y1="402.22" x2="257.40" y2="402.22" stroke="#111" stroke-width="1.0" />
<line x1="253.60" y1="395.42" x2="257.40" y2="395.42" stroke="#111" stroke-width="1.2" />
<line x1="255.20" y1="388.63" x2="257.40" y2="388.63" stroke="#111" stroke-width="1.0" />
<line x1="255.20" y1="381.83" x2="257.40" y2="381.83" stroke="#111" stroke-width="1.0" />
<line x1="255.20" y1="375.04" x2="257.40" y2="375.04" stroke="#111" stroke-width="1.0" />
<line x1="255.20" y1="368.25" x2="257.40" y2="368.25" stroke="#111" stroke-width="1.0" />
<line x1="253.60" y1="361.45" x2="257.40" y2="361.45" stroke="#111" stroke-width="1.2" />
<line x1="255.20" y1="354.65" x2="257.40" y2="354.65" stroke="#111" stroke-width="1.0" />
<line x1="255.20" y1="347.86" x2="257.40" y2="347.86" stroke="#111" stroke-width="1.0" />
<line x1="255.20" y1="341.06" x2="257.40" y2="341.06" stroke="#111" stroke-width="1.0" />
<line x1="255.20" y1="334.27" x2="257.40" y2="334.27" stroke="#111" stroke-width="1.0" />
<line x1="253.60" y1="327.47" x2="257.40" y2="327.47" stroke="#111" stroke-width="1.2" />
<line x1="255.20" y1="320.68" x2="257.40" y2="320.68" stroke="#111" stroke-width="1.0" />
<line x1="255.20" y1="313.88" x2="257.40" y2="313.88" stroke="#111" stroke-width="1.0" />
<text x="252.80" y="432.00" font-size="7.2" font-weight="bold" text-anchor="end" fill="#111" textLength="4.00" lengthAdjust="spacingAndGlyphs" >0</text>
<text x="252.80" y="398.02" font-size="7.2" font-weight="bold" text-anchor="end" fill="#111" textLength="8.00" lengthAdjust="spacingAndGlyphs" >50</text>
<text x="252.80" y="364.05" font-size="7.2" font-weight="bold" text-anchor="end" fill="#111" textLength="12.00" lengthAdjust="spacingAndGlyphs" >100</text>
<text x="252.80" y="330.07" font-size="7.2" font-weight="bold" text-anchor="end" fill="#111" textLength="12.00" lengthAdjust="spacingAndGlyphs" >150</text>
<text x="232.20" y="369.30" font-size="8" font-weight="bold" text-anchor="middle" fill="#111" textLength="25.80" lengthAdjust="spacingAndGlyphs" transform="rotate(-90 232.20 369.30)" >Counts</text>
<text x="260.90" y="440.90" font-size="7.8" font-weight="bold" text-anchor="end" fill="#1a1a1a" textLength="8.60" lengthAdjust="spacingAndGlyphs" >10</text>
<text x="261.30" y="438.40" font-size="4.4" font-weight="bold" text-anchor="start" fill="#1a1a1a" >-1</text>
<text x="299.90" y="440.90" font-size="7.8" font-weight="bold" text-anchor="end" fill="#1a1a1a" textLength="8.60" lengthAdjust="spacingAndGlyphs" >10</text>
<text x="300.30" y="438.40" font-size="4.4" font-weight="bold" text-anchor="start" fill="#1a1a1a" >0</text>
<text x="338.90" y="440.90" font-size="7.8" font-weight="bold" text-anchor="end" fill="#1a1a1a" textLength="8.60" lengthAdjust="spacingAndGlyphs" >10</text>
<text x="339.30" y="438.40" font-size="4.4" font-weight="bold" text-anchor="start" fill="#1a1a1a" >1</text>
<text x="377.90" y="440.90" font-size="7.8" font-weight="bold" text-anchor="end" fill="#1a1a1a" textLength="8.60" lengthAdjust="spacingAndGlyphs" >10</text>
<text x="378.30" y="438.40" font-size="4.4" font-weight="bold" text-anchor="start" fill="#1a1a1a" >2</text>
<text x="416.90" y="440.90" font-size="7.8" font-weight="bold" text-anchor="end" fill="#1a1a1a" textLength="8.60" lengthAdjust="spacingAndGlyphs" >10</text>
<text x="417.30" y="438.40" font-size="4.4" font-weight="bold" text-anchor="start" fill="#1a1a1a" >3</text>
<text x="455.90" y="440.90" font-size="7.8" font-weight="bold" text-anchor="end" fill="#1a1a1a" textLength="8.60" lengthAdjust="spacingAndGlyphs" >10</text>
<text x="456.30" y="438.40" font-size="4.4" font-weight="bold" text-anchor="start" fill="#1a1a1a" >4</text>
<text x="355.20" y="455.70" font-size="8" font-weight="bold" text-anchor="middle" fill="#111" textLength="31.00" lengthAdjust="spacingAndGlyphs" >PR3 - PE</text>
<text x="289.40" y="318.60" font-size="8.2" font-weight="normal" text-anchor="start" fill="#222" >(μM)</text>
<rect x="270.60" y="326.00" width="15.90" height="7.00" fill="#0A0AD8" stroke="#333" stroke-width="0.8"/>
<text x="291.00" y="332.50" font-size="9.2" font-weight="normal" text-anchor="start" fill="#222" >10</text>
<rect x="270.60" y="337.72" width="15.90" height="7.00" fill="#3A9BE8" stroke="#333" stroke-width="0.8"/>
<text x="291.00" y="344.22" font-size="9.2" font-weight="normal" text-anchor="start" fill="#222" >1.7</text>
<rect x="270.60" y="349.44" width="15.90" height="7.00" fill="#1EF5F5" stroke="#333" stroke-width="0.8"/>
<text x="291.00" y="355.94" font-size="9.2" font-weight="normal" text-anchor="start" fill="#222" >0.28</text>
<rect x="270.60" y="361.16" width="15.90" height="7.00" fill="#16E616" stroke="#333" stroke-width="0.8"/>
<text x="291.00" y="367.66" font-size="9.2" font-weight="normal" text-anchor="start" fill="#222" >0.046</text>
<rect x="270.60" y="372.88" width="15.90" height="7.00" fill="#FFFF10" stroke="#333" stroke-width="0.8"/>
<text x="291.00" y="379.38" font-size="9.2" font-weight="normal" text-anchor="start" fill="#222" >0.0077</text>
<rect x="270.60" y="384.60" width="15.90" height="7.00" fill="#EF8438" stroke="#333" stroke-width="0.8"/>
<text x="291.00" y="391.10" font-size="9.2" font-weight="normal" text-anchor="start" fill="#222" >0.0013</text>
<rect x="270.60" y="396.32" width="15.90" height="7.00" fill="#FF1A1A" stroke="#333" stroke-width="0.8"/>
<text x="291.00" y="402.82" font-size="9.2" font-weight="normal" text-anchor="start" fill="#222" >vehicle</text>
<path d="M258.20 428.40 L263.50 428.40" fill="none" stroke="#22E0DD" stroke-width="1.8" stroke-linejoin="round" />
<path d="M339.80 427.80 L354.50 425.30 L360.70 421.60 L366.80 414.30 L372.90 405.70 L377.90 396.50 L381.50 384.80 L384.00 375.00 L387.30 364.10 L390.90 357.00 L394.40 348.70 L398.00 345.70 L400.90 344.50 L402.70 346.90 L404.50 352.20 L406.80 355.80 L409.80 362.90 L411.00 372.30 L413.80 387.30 L416.90 399.50 L420.60 411.80 L424.30 421.60 L429.20 426.50 L434.10 428.60 L440.00 428.80" fill="none" stroke="#FF8C10" stroke-width="2.2" stroke-linejoin="round" />
<path d="M340.00 428.60 L349.60 425.90 L355.80 422.20 L360.70 414.30 L365.00 404.00 L371.50 391.00 L375.80 379.00 L377.20 375.50 L380.20 366.00 L382.60 352.20 L384.40 343.90 L387.30 342.80 L391.10 336.80 L393.80 340.40 L396.20 348.70 L398.60 354.60 L400.90 362.90 L402.80 375.00 L405.90 389.70 L409.50 400.80 L412.60 408.10 L415.70 418.00 L420.60 424.70 L425.50 428.60" fill="none" stroke="#FF1010" stroke-width="2.2" stroke-linejoin="round" />
<path d="M335.00 428.60 L346.00 424.10 L350.90 421.00 L354.50 415.50 L358.80 406.90 L361.30 397.10 L363.10 387.30 L365.60 377.50 L368.40 370.00 L370.20 368.80 L372.50 363.50 L376.10 361.70 L379.60 354.60 L383.20 350.40 L386.70 359.30 L389.70 353.40 L393.80 346.30 L396.80 355.80 L399.10 372.30 L402.20 389.70 L405.20 403.20 L409.50 416.70 L414.40 424.10 L421.80 428.60" fill="none" stroke="#FFEE00" stroke-width="2.2" stroke-linejoin="round" />
<path d="M330.00 428.50 L344.70 424.10 L349.60 418.00 L354.50 408.10 L358.80 391.00 L361.90 379.90 L363.70 372.30 L366.60 359.30 L370.80 351.60 L374.30 347.50 L377.90 355.80 L382.60 364.60 L386.20 361.10 L390.90 362.90 L393.30 370.00 L396.00 387.30 L397.90 399.50 L401.00 411.80 L404.60 421.60 L410.80 426.50 L416.90 428.60" fill="none" stroke="#22EE33" stroke-width="2.2" stroke-linejoin="round" />
<path d="M314.20 428.50 L330.00 426.50 L340.00 422.50 L344.70 421.00 L350.00 414.00 L355.00 403.00 L358.20 387.30 L360.70 379.90 L365.60 376.20 L370.50 378.70 L374.20 381.70 L379.10 384.20 L384.00 392.20 L387.50 396.50 L391.10 403.20 L394.80 409.40 L398.50 418.00 L402.20 426.50 L407.10 428.60" fill="none" stroke="#22E0DD" stroke-width="2.2" stroke-linejoin="round" />
<path d="M318.00 427.50 L330.00 424.50 L338.80 417.10 L340.70 412.30 L342.60 411.90 L344.00 414.20 L346.50 409.50 L350.50 402.00 L355.00 396.00 L358.50 392.00 L363.10 389.70 L366.80 392.80 L371.70 402.50 L376.60 411.50 L382.00 415.50 L386.40 421.50 L390.50 424.10 L396.00 428.20" fill="none" stroke="#3399FF" stroke-width="2.2" stroke-linejoin="round" />
<path d="M287.60 428.50 L292.30 427.50 L297.10 428.00 L302.80 428.70 L306.60 427.50 L310.40 428.50 L314.20 426.60 L318.00 424.90 L321.70 426.10 L325.50 425.10 L329.30 422.80 L334.10 421.30 L337.90 419.40 L341.70 416.60 L344.70 411.80 L349.60 405.10 L353.30 397.70 L355.80 399.50 L358.20 394.60 L360.70 389.70 L363.70 392.20 L366.80 398.30 L370.50 404.40 L374.20 410.60 L379.10 415.50 L384.00 421.60 L388.90 424.70 L394.80 427.80 L401.00 428.80" fill="none" stroke="#1A1AE6" stroke-width="2.2" stroke-linejoin="round" />
<line x1="256.65" y1="429.40" x2="452.40" y2="429.40" stroke="#111" stroke-width="1.6" />
<line x1="257.50" y1="429.40" x2="257.50" y2="432.40" stroke="#111" stroke-width="1.2" />
<line x1="269.24" y1="429.40" x2="269.24" y2="431.80" stroke="#111" stroke-width="1.0" />
<line x1="276.11" y1="429.40" x2="276.11" y2="431.80" stroke="#111" stroke-width="1.0" />
<line x1="280.98" y1="429.40" x2="280.98" y2="431.80" stroke="#111" stroke-width="1.0" />
<line x1="284.76" y1="429.40" x2="284.76" y2="431.80" stroke="#111" stroke-width="1.0" />
<line x1="287.85" y1="429.40" x2="287.85" y2="431.80" stroke="#111" stroke-width="1.0" />
<line x1="290.46" y1="429.40" x2="290.46" y2="431.80" stroke="#111" stroke-width="1.0" />
<line x1="292.72" y1="429.40" x2="292.72" y2="431.80" stroke="#111" stroke-width="1.0" />
<line x1="294.72" y1="429.40" x2="294.72" y2="431.80" stroke="#111" stroke-width="1.0" />
<line x1="296.50" y1="429.40" x2="296.50" y2="432.40" stroke="#111" stroke-width="1.2" />
<line x1="308.24" y1="429.40" x2="308.24" y2="431.80" stroke="#111" stroke-width="1.0" />
<line x1="315.11" y1="429.40" x2="315.11" y2="431.80" stroke="#111" stroke-width="1.0" />
<line x1="319.98" y1="429.40" x2="319.98" y2="431.80" stroke="#111" stroke-width="1.0" />
<line x1="323.76" y1="429.40" x2="323.76" y2="431.80" stroke="#111" stroke-width="1.0" />
<line x1="326.85" y1="429.40" x2="326.85" y2="431.80" stroke="#111" stroke-width="1.0" />
<line x1="329.46" y1="429.40" x2="329.46" y2="431.80" stroke="#111" stroke-width="1.0" />
<line x1="331.72" y1="429.40" x2="331.72" y2="431.80" stroke="#111" stroke-width="1.0" />
<line x1="333.72" y1="429.40" x2="333.72" y2="431.80" stroke="#111" stroke-width="1.0" />
<line x1="335.50" y1="429.40" x2="335.50" y2="432.40" stroke="#111" stroke-width="1.2" />
<line x1="347.24" y1="429.40" x2="347.24" y2="431.80" stroke="#111" stroke-width="1.0" />
<line x1="354.11" y1="429.40" x2="354.11" y2="431.80" stroke="#111" stroke-width="1.0" />
<line x1="358.98" y1="429.40" x2="358.98" y2="431.80" stroke="#111" stroke-width="1.0" />
<line x1="362.76" y1="429.40" x2="362.76" y2="431.80" stroke="#111" stroke-width="1.0" />
<line x1="365.85" y1="429.40" x2="365.85" y2="431.80" stroke="#111" stroke-width="1.0" />
<line x1="368.46" y1="429.40" x2="368.46" y2="431.80" stroke="#111" stroke-width="1.0" />
<line x1="370.72" y1="429.40" x2="370.72" y2="431.80" stroke="#111" stroke-width="1.0" />
<line x1="372.72" y1="429.40" x2="372.72" y2="431.80" stroke="#111" stroke-width="1.0" />
<line x1="374.50" y1="429.40" x2="374.50" y2="432.40" stroke="#111" stroke-width="1.2" />
<line x1="386.24" y1="429.40" x2="386.24" y2="431.80" stroke="#111" stroke-width="1.0" />
<line x1="393.11" y1="429.40" x2="393.11" y2="431.80" stroke="#111" stroke-width="1.0" />
<line x1="397.98" y1="429.40" x2="397.98" y2="431.80" stroke="#111" stroke-width="1.0" />
<line x1="401.76" y1="429.40" x2="401.76" y2="431.80" stroke="#111" stroke-width="1.0" />
<line x1="404.85" y1="429.40" x2="404.85" y2="431.80" stroke="#111" stroke-width="1.0" />
<line x1="407.46" y1="429.40" x2="407.46" y2="431.80" stroke="#111" stroke-width="1.0" />
<line x1="409.72" y1="429.40" x2="409.72" y2="431.80" stroke="#111" stroke-width="1.0" />
<line x1="411.72" y1="429.40" x2="411.72" y2="431.80" stroke="#111" stroke-width="1.0" />
<line x1="413.50" y1="429.40" x2="413.50" y2="432.40" stroke="#111" stroke-width="1.2" />
<line x1="425.24" y1="429.40" x2="425.24" y2="431.80" stroke="#111" stroke-width="1.0" />
<line x1="432.11" y1="429.40" x2="432.11" y2="431.80" stroke="#111" stroke-width="1.0" />
<line x1="436.98" y1="429.40" x2="436.98" y2="431.80" stroke="#111" stroke-width="1.0" />
<line x1="440.76" y1="429.40" x2="440.76" y2="431.80" stroke="#111" stroke-width="1.0" />
<line x1="443.85" y1="429.40" x2="443.85" y2="431.80" stroke="#111" stroke-width="1.0" />
<line x1="446.46" y1="429.40" x2="446.46" y2="431.80" stroke="#111" stroke-width="1.0" />
<line x1="448.72" y1="429.40" x2="448.72" y2="431.80" stroke="#111" stroke-width="1.0" />
<line x1="450.72" y1="429.40" x2="450.72" y2="431.80" stroke="#111" stroke-width="1.0" />
<line x1="452.50" y1="429.40" x2="452.50" y2="432.20" stroke="#111" stroke-width="1.1" />
<line x1="501.90" y1="312.40" x2="501.90" y2="430.45" stroke="#111" stroke-width="1.5" />
<line x1="501.15" y1="429.70" x2="678.50" y2="429.70" stroke="#111" stroke-width="1.5" />
<line x1="497.00" y1="429.70" x2="501.90" y2="429.70" stroke="#111" stroke-width="1.3" />
<text x="495.00" y="432.70" font-size="8.4" font-weight="bold" text-anchor="end" fill="#111" >0</text>
<line x1="497.00" y1="407.98" x2="501.90" y2="407.98" stroke="#111" stroke-width="1.3" />
<text x="495.00" y="410.98" font-size="8.4" font-weight="bold" text-anchor="end" fill="#111" >50</text>
<line x1="497.00" y1="386.26" x2="501.90" y2="386.26" stroke="#111" stroke-width="1.3" />
<text x="495.00" y="389.26" font-size="8.4" font-weight="bold" text-anchor="end" fill="#111" >100</text>
<line x1="497.00" y1="364.54" x2="501.90" y2="364.54" stroke="#111" stroke-width="1.3" />
<text x="495.00" y="367.54" font-size="8.4" font-weight="bold" text-anchor="end" fill="#111" >150</text>
<line x1="497.00" y1="342.82" x2="501.90" y2="342.82" stroke="#111" stroke-width="1.3" />
<text x="495.00" y="345.82" font-size="8.4" font-weight="bold" text-anchor="end" fill="#111" >200</text>
<line x1="497.00" y1="321.10" x2="501.90" y2="321.10" stroke="#111" stroke-width="1.3" />
<text x="495.00" y="324.10" font-size="8.4" font-weight="bold" text-anchor="end" fill="#111" >250</text>
<text x="476.30" y="370.80" font-size="10.4" font-weight="bold" text-anchor="middle" fill="#111" textLength="17.50" lengthAdjust="spacingAndGlyphs" transform="rotate(-90 476.30 370.80)" >MFI</text>
<line x1="501.50" y1="429.70" x2="501.50" y2="434.20" stroke="#111" stroke-width="1.3" />
<text x="501.80" y="445.00" font-size="8.5" font-weight="bold" text-anchor="middle" fill="#111"><tspan>10</tspan><tspan dx="0.6" dy="-2.6" font-size="5.6">-4</tspan></text>
<line x1="531.00" y1="429.70" x2="531.00" y2="434.20" stroke="#111" stroke-width="1.3" />
<text x="531.30" y="445.00" font-size="8.5" font-weight="bold" text-anchor="middle" fill="#111"><tspan>10</tspan><tspan dx="0.6" dy="-2.6" font-size="5.6">-3</tspan></text>
<line x1="560.50" y1="429.70" x2="560.50" y2="434.20" stroke="#111" stroke-width="1.3" />
<text x="560.80" y="445.00" font-size="8.5" font-weight="bold" text-anchor="middle" fill="#111"><tspan>10</tspan><tspan dx="0.6" dy="-2.6" font-size="5.6">-2</tspan></text>
<line x1="590.00" y1="429.70" x2="590.00" y2="434.20" stroke="#111" stroke-width="1.3" />
<text x="590.30" y="445.00" font-size="8.5" font-weight="bold" text-anchor="middle" fill="#111"><tspan>10</tspan><tspan dx="0.6" dy="-2.6" font-size="5.6">-1</tspan></text>
<line x1="619.50" y1="429.70" x2="619.50" y2="434.20" stroke="#111" stroke-width="1.3" />
<text x="619.80" y="445.00" font-size="8.5" font-weight="bold" text-anchor="middle" fill="#111"><tspan>10</tspan><tspan dx="0.6" dy="-2.6" font-size="5.6">0</tspan></text>
<line x1="649.00" y1="429.70" x2="649.00" y2="434.20" stroke="#111" stroke-width="1.3" />
<text x="649.30" y="445.00" font-size="8.5" font-weight="bold" text-anchor="middle" fill="#111"><tspan>10</tspan><tspan dx="0.6" dy="-2.6" font-size="5.6">1</tspan></text>
<line x1="678.50" y1="429.70" x2="678.50" y2="434.20" stroke="#111" stroke-width="1.3" />
<text x="678.80" y="445.00" font-size="8.5" font-weight="bold" text-anchor="middle" fill="#111"><tspan>10</tspan><tspan dx="0.6" dy="-2.6" font-size="5.6">2</tspan></text>
<text x="588.80" y="460.80" font-size="10.5" font-weight="bold" text-anchor="middle" fill="#111" textLength="81.20" lengthAdjust="spacingAndGlyphs" >MOD06051 (μM)</text>
<path d="M533.90 348.45 L535.84 348.55 L537.77 348.68 L539.71 348.82 L541.65 348.99 L543.59 349.19 L545.52 349.43 L547.46 349.70 L549.40 350.02 L551.34 350.39 L553.27 350.82 L555.21 351.31 L557.15 351.89 L559.08 352.55 L561.02 353.31 L562.96 354.18 L564.90 355.17 L566.83 356.29 L568.77 357.55 L570.71 358.95 L572.65 360.50 L574.58 362.21 L576.52 364.06 L578.46 366.05 L580.39 368.17 L582.33 370.40 L584.27 372.72 L586.21 375.09 L588.14 377.49 L590.08 379.89 L592.02 382.25 L593.96 384.54 L595.89 386.74 L597.83 388.83 L599.77 390.78 L601.71 392.59 L603.64 394.25 L605.58 395.76 L607.52 397.12 L609.45 398.33 L611.39 399.41 L613.33 400.36 L615.27 401.20 L617.20 401.93 L619.14 402.57 L621.08 403.12 L623.02 403.60 L624.95 404.01 L626.89 404.36 L628.83 404.67 L630.76 404.93 L632.70 405.15 L634.64 405.34 L636.58 405.50 L638.51 405.64 L640.45 405.76 L642.39 405.86 L644.33 405.94 L646.26 406.02 L648.20 406.08" fill="none" stroke="#2a2a2a" stroke-width="1.1" stroke-linejoin="round" />
<line x1="533.90" y1="332.90" x2="533.90" y2="363.00" stroke="#3a3a3a" stroke-width="1.0" />
<line x1="531.60" y1="332.90" x2="536.20" y2="332.90" stroke="#2a2a2a" stroke-width="1.2" />
<line x1="531.60" y1="363.00" x2="536.20" y2="363.00" stroke="#2a2a2a" stroke-width="1.2" />
<line x1="556.90" y1="344.10" x2="556.90" y2="366.70" stroke="#3a3a3a" stroke-width="1.0" />
<line x1="554.60" y1="344.10" x2="559.20" y2="344.10" stroke="#2a2a2a" stroke-width="1.2" />
<line x1="554.60" y1="366.70" x2="559.20" y2="366.70" stroke="#2a2a2a" stroke-width="1.2" />
<line x1="579.60" y1="360.00" x2="579.60" y2="376.00" stroke="#3a3a3a" stroke-width="1.0" />
<line x1="577.30" y1="360.00" x2="581.90" y2="360.00" stroke="#2a2a2a" stroke-width="1.2" />
<line x1="577.30" y1="376.00" x2="581.90" y2="376.00" stroke="#2a2a2a" stroke-width="1.2" />
<line x1="602.50" y1="386.50" x2="602.50" y2="401.00" stroke="#3a3a3a" stroke-width="1.0" />
<line x1="600.20" y1="386.50" x2="604.80" y2="386.50" stroke="#2a2a2a" stroke-width="1.2" />
<line x1="600.20" y1="401.00" x2="604.80" y2="401.00" stroke="#2a2a2a" stroke-width="1.2" />
<line x1="625.30" y1="401.00" x2="625.30" y2="410.00" stroke="#3a3a3a" stroke-width="1.0" />
<line x1="623.00" y1="401.00" x2="627.60" y2="401.00" stroke="#2a2a2a" stroke-width="1.2" />
<line x1="623.00" y1="410.00" x2="627.60" y2="410.00" stroke="#2a2a2a" stroke-width="1.2" />
<line x1="648.20" y1="401.10" x2="648.20" y2="410.00" stroke="#3a3a3a" stroke-width="1.0" />
<line x1="645.90" y1="401.10" x2="650.50" y2="401.10" stroke="#2a2a2a" stroke-width="1.2" />
<line x1="645.90" y1="410.00" x2="650.50" y2="410.00" stroke="#2a2a2a" stroke-width="1.2" />
<circle cx="533.90" cy="316.80" r="2.6" fill="#000" stroke="none" stroke-width="0"/>
<circle cx="533.90" cy="361.90" r="2.6" fill="#000" stroke="none" stroke-width="0"/>
<circle cx="533.90" cy="363.00" r="2.6" fill="#000" stroke="none" stroke-width="0"/>
<circle cx="556.90" cy="320.00" r="2.6" fill="#000" stroke="none" stroke-width="0"/>
<circle cx="556.90" cy="341.30" r="2.6" fill="#000" stroke="none" stroke-width="0"/>
<circle cx="556.90" cy="371.00" r="2.6" fill="#000" stroke="none" stroke-width="0"/>
<circle cx="556.90" cy="378.10" r="2.6" fill="#000" stroke="none" stroke-width="0"/>
<circle cx="579.60" cy="353.80" r="2.6" fill="#000" stroke="none" stroke-width="0"/>
<circle cx="579.60" cy="361.50" r="2.6" fill="#000" stroke="none" stroke-width="0"/>
<circle cx="579.60" cy="376.10" r="2.6" fill="#000" stroke="none" stroke-width="0"/>
<circle cx="579.60" cy="378.70" r="2.6" fill="#000" stroke="none" stroke-width="0"/>
<circle cx="602.50" cy="376.10" r="2.6" fill="#000" stroke="none" stroke-width="0"/>
<circle cx="602.50" cy="389.60" r="2.6" fill="#000" stroke="none" stroke-width="0"/>
<circle cx="602.50" cy="401.10" r="2.6" fill="#000" stroke="none" stroke-width="0"/>
<circle cx="602.50" cy="403.30" r="2.6" fill="#000" stroke="none" stroke-width="0"/>
<circle cx="625.30" cy="398.50" r="2.6" fill="#000" stroke="none" stroke-width="0"/>
<circle cx="625.30" cy="402.80" r="2.6" fill="#000" stroke="none" stroke-width="0"/>
<circle cx="625.30" cy="409.70" r="2.6" fill="#000" stroke="none" stroke-width="0"/>
<circle cx="625.30" cy="412.00" r="2.6" fill="#000" stroke="none" stroke-width="0"/>
<circle cx="648.20" cy="392.20" r="2.6" fill="#000" stroke="none" stroke-width="0"/>
<circle cx="648.20" cy="405.80" r="2.6" fill="#000" stroke="none" stroke-width="0"/>
<circle cx="648.20" cy="410.80" r="2.6" fill="#000" stroke="none" stroke-width="0"/>
<circle cx="648.20" cy="412.60" r="2.6" fill="#000" stroke="none" stroke-width="0"/>
</svg></body></html>
